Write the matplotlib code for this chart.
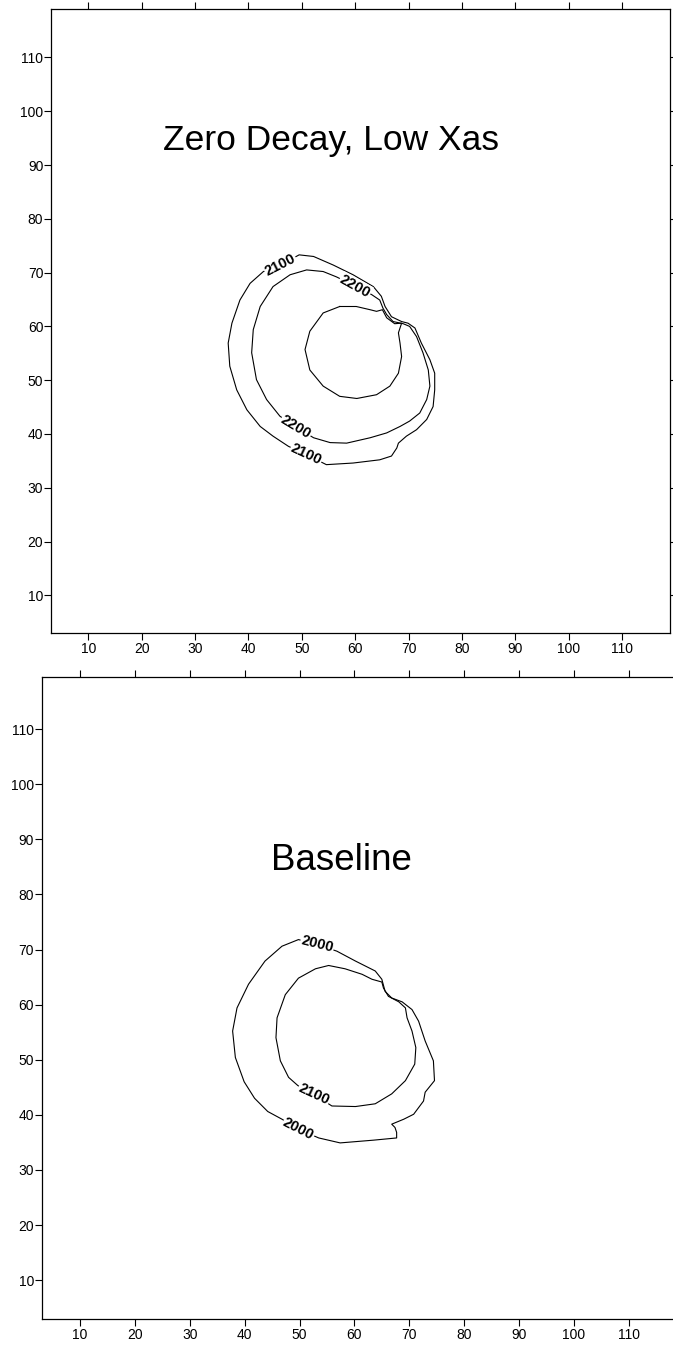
import matplotlib

matplotlib.use("agg")
import matplotlib.pyplot as plt

plt.rcParams["font.family"] = ["Liberation Sans", "DejaVu Sans"]

# axis ticks (same for both panels)
tick_values = [10, 20, 30, 40, 50, 60, 70, 80, 90, 100, 110]

# --- panel 1: Zero Decay, Low Xas ---
title_top = "Zero Decay, Low Xas"
top_2100_x = [46.0, 49.5, 52.2, 55.9, 59.6, 63.4, 64.9, 65.6, 66.8, 68.7, 69.9, 71.2, 72.4, 74.0, 74.9, 74.9,
              74.6, 73.4, 71.5, 69.6, 68.1, 67.8, 66.8, 64.6, 59.6, 54.6, 50.8, 47.5, 44.6, 42.2, 39.7, 37.8,
              36.5, 36.2, 36.9, 38.4, 40.3, 42.8, 46.0]
top_2100_y = [71.4, 73.3, 73.0, 71.4, 69.6, 67.4, 65.6, 63.7, 61.8, 60.9, 60.6, 59.7, 56.9, 53.8, 51.3, 48.2,
              45.1, 42.7, 40.8, 39.6, 38.3, 37.4, 35.9, 35.2, 34.6, 34.3, 36.2, 37.7, 39.6, 41.4, 44.5, 48.2,
              52.6, 56.9, 60.6, 64.9, 68.0, 70.2, 71.4]
top_2200_x = [60.0, 63.1, 64.6, 65.2, 65.9, 67.1, 69.0, 70.2, 71.5, 72.7, 73.7, 74.0, 73.4, 72.1, 70.2, 68.4,
              65.9, 62.8, 58.4, 55.3, 52.2, 48.9, 45.9, 43.4, 41.5, 40.6, 40.9, 42.2, 44.6, 47.8, 50.9, 54.0,
              56.5, 60.0]
top_2200_y = [67.5, 65.9, 64.9, 63.4, 62.2, 60.9, 60.5, 60.0, 58.1, 55.1, 51.9, 48.9, 46.4, 43.9, 42.4, 41.4,
              40.2, 39.3, 38.3, 38.4, 39.3, 41.3, 43.3, 46.4, 50.1, 55.1, 59.4, 63.7, 67.4, 69.6, 70.5, 70.2,
              69.2, 67.5]
top_2300_x = [57.1, 60.2, 62.8, 64.0, 65.1, 65.9, 67.4, 68.7, 68.4, 68.1, 68.4, 68.7, 68.1, 66.5, 64.0, 60.3,
              57.1, 54.0, 51.5, 50.6, 51.5, 54.0, 57.1]
top_2300_y = [63.7, 63.7, 63.1, 62.8, 63.1, 61.6, 60.5, 60.6, 59.7, 58.8, 56.9, 54.4, 51.3, 48.9, 47.3, 46.6,
              47.0, 48.9, 51.9, 55.7, 59.1, 62.5, 63.7]
# contour labels: (text, x, y, rotation)
top_labels = [("2100", 46.0, 71.4, 27), ("2100", 50.8, 36.2, -25),
              ("2200", 60.0, 67.5, -29), ("2200", 48.9, 41.3, -31)]

# --- panel 2: Baseline ---
title_bottom = "Baseline"
base_2000_x = [53.2, 56.8, 60.2, 63.8, 65.0, 65.6, 66.8, 68.7, 70.5, 71.7, 72.9, 74.4, 74.6, 72.9, 72.6, 70.8,
               69.0, 66.8, 67.4, 67.7, 67.7, 63.5, 57.4, 53.5, 49.8, 46.8, 44.2, 41.8, 39.9, 38.3, 37.8, 38.6,
               40.7, 43.7, 46.8, 49.8, 53.2]
base_2000_y = [70.9, 69.7, 67.9, 66.1, 64.6, 62.4, 61.2, 60.5, 59.1, 57.0, 53.4, 49.8, 46.2, 44.1, 42.5, 40.1,
               39.2, 38.3, 37.7, 36.8, 35.8, 35.4, 34.9, 35.8, 37.4, 39.2, 40.6, 43.0, 46.0, 50.4, 55.2, 59.4,
               63.7, 67.9, 70.6, 71.8, 70.9]
base_2100_x = [52.6, 55.9, 60.2, 63.8, 66.8, 69.3, 71.0, 71.2, 70.5, 69.6, 69.3, 68.1, 66.2, 65.3, 65.0, 63.2,
               61.4, 58.3, 55.3, 52.9, 49.8, 47.4, 45.9, 45.7, 46.5, 48.0, 49.7, 52.6]
base_2100_y = [43.7, 41.6, 41.5, 42.0, 43.8, 46.2, 49.2, 52.2, 55.2, 57.6, 59.4, 60.5, 61.5, 63.0, 64.1, 64.6,
               65.5, 66.5, 67.1, 66.5, 64.8, 61.8, 57.6, 54.0, 49.8, 46.8, 45.3, 43.7]
base_labels = [("2000", 53.2, 70.9, -14), ("2000", 49.8, 37.4, -27),
               ("2100", 52.6, 43.7, -25)]


def style_axes(ax, ylim):
    ax.set_xlim(3, 119)
    ax.set_ylim(3, ylim)
    ax.set_xticks(tick_values)
    ax.set_yticks(tick_values)
    ax.tick_params(direction="out", length=5, width=0.8, color="black", labelsize=10,
                   top=True, right=True, labeltop=False, labelright=False, pad=1.5)
    ax.tick_params(axis="y", pad=0.5)
    for sp in ax.spines.values():
        sp.set_linewidth(0.9)
        sp.set_color("black")


def draw_contours(ax, lines, labels):
    for xs, ys in lines:
        ax.plot(xs, ys, color="black", linewidth=0.8)
    for txt, x, y, rot in labels:
        ax.text(x, y, txt, fontsize=10.5, fontweight="bold", ha="center", va="center",
                rotation=rot, rotation_mode="anchor", zorder=5,
                bbox=dict(boxstyle="square,pad=0.05", facecolor="white", edgecolor="none"))


fig = plt.figure(figsize=(6.73, 13.46), dpi=100)

ax1 = fig.add_axes([0.0758, 0.5297, 0.9198, 0.4636])
style_axes(ax1, 119)
draw_contours(ax1, [(top_2100_x, top_2100_y), (top_2200_x, top_2200_y), (top_2300_x, top_2300_y)], top_labels)
ax1.text(55.4, 92.8, title_top, fontsize=25.5, ha="center", va="baseline")

ax2 = fig.add_axes([0.062, 0.0203, 0.9455, 0.4765])
style_axes(ax2, 119.4)
draw_contours(ax2, [(base_2000_x, base_2000_y), (base_2100_x, base_2100_y)], base_labels)
ax2.text(57.6, 84.5, title_bottom, fontsize=26.5, ha="center", va="baseline")

fig.savefig("out.png", dpi=100)
